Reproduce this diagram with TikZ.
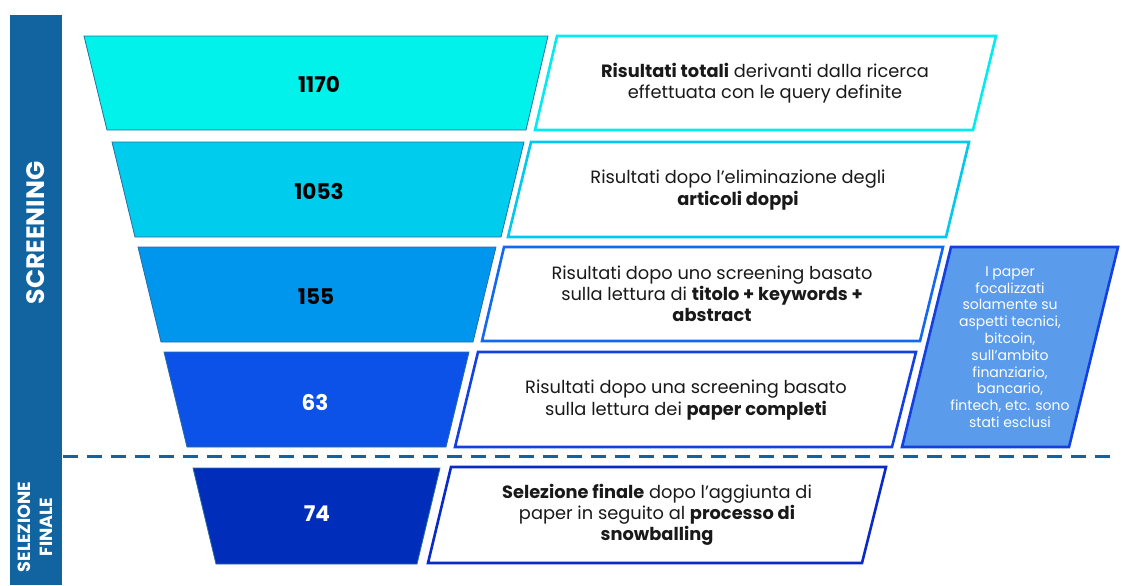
\documentclass[tikz,border=0pt]{standalone}
\usepackage{fontspec}
\setmainfont{Poppins}
\usepackage{tikz}
\definecolor{barblue}{RGB}{17,100,160}
\definecolor{stageA}{RGB}{0,242,234}
\definecolor{stageB}{RGB}{0,204,238}
\definecolor{stageC}{RGB}{0,150,238}
\definecolor{stageD}{RGB}{12,82,232}
\definecolor{stageE}{RGB}{0,46,186}
\definecolor{edgeA}{RGB}{0,236,240}
\definecolor{edgeB}{RGB}{0,200,238}
\definecolor{edgeC}{RGB}{18,104,240}
\definecolor{edgeD}{RGB}{20,64,226}
\definecolor{edgeE}{RGB}{10,42,200}
\definecolor{sidefill}{RGB}{90,155,235}
\definecolor{stageline}{RGB}{40,110,160}
\definecolor{inktext}{RGB}{25,25,25}
\tikzset{stage/.style={draw=stageline, line width=0.4pt}}
\tikzset{descbox/.style={draw=#1, fill=white, line width=1.3pt, line join=miter}}
\tikzset{numtext/.style={font=\bfseries\fontsize{10.8}{12}\selectfont, text=#1}}
\tikzset{numtext/.default=black}
\tikzset{desctext/.style={align=center, text=inktext, font=\fontsize{8.9}{10.6}\selectfont}}

\begin{document}
\begin{tikzpicture}[x=0.5pt, y=-0.5pt]
            \useasboundingbox (0,0) rectangle (1122,585);
            % side bar
            \fill[barblue] (10,15) rectangle (62,585);
            \node[rotate=90, text=white, font=\bfseries\fontsize{12.6}{14}\selectfont] (screening) at (36,233) {SCREENING};
            \node[rotate=90, text=white, align=center, font=\bfseries\fontsize{8.8}{10.8}\selectfont] (selezione) at (35,527) {SELEZIONE\\FINALE};
            % funnel
            \foreach \yt/\yb/\tl/\tr/\bl/\br/\col in {36/130/84/548/107/526/stageA, 142/237/112/524/135/501/stageB, 247/342/138/496/161/473/stageC, 352/447/164/469/187/446/stageD, 468/564/193/440/216/417/stageE} {
                \filldraw[stage, fill=\col] (\tl,\yt) -- (\tr,\yt) -- (\br,\yb) -- (\bl,\yb) -- cycle;
            }
            \node[numtext] (n1170) at (319,84) {1170};
            \node[numtext] (n1053) at (319,191) {1053};
            \node[numtext] (n155) at (316,297) {155};
            \node[numtext=white] (n63) at (315,402) {63};
            \node[numtext=white] (n74) at (317,514) {74};
            % text boxes
            \foreach \yt/\yb/\tl/\tr/\bl/\br/\col in {36/130/557/996/535/973/edgeA, 142/237/531/969/508/946/edgeB, 247/341/504/943/482/920/edgeC, 352/447/478/916/455/892/edgeD, 467/563/451/886/428/862/edgeE} {
                \draw[descbox=\col] (\tl,\yt) -- (\tr,\yt) -- (\br,\yb) -- (\bl,\yb) -- cycle;
            }
            \node[desctext] (d1170) at (765,83) {\textbf{Risultati totali} derivanti dalla ricerca\\effettuata con le query definite};
            \node[desctext] (d1053) at (738,190) {Risultati dopo l’eliminazione degli\\\textbf{articoli doppi}};
            \node[desctext] (d155) at (712,294) {Risultati dopo uno screening basato\\sulla lettura di \textbf{titolo + keywords +}\\\textbf{abstract}};
            \node[desctext] (d63) at (686,400) {Risultati dopo una screening basato\\sulla lettura dei \textbf{paper completi}};
            \node[desctext] (d74) at (657,515) {\textbf{Selezione finale} dopo l’aggiunta di\\paper in seguito al \textbf{processo di}\\\textbf{snowballing}};
            % excluded papers
            \draw[fill=sidefill, draw=edgeD, line width=1.3pt] (951,247) -- (1118,247) -- (1069,447) -- (902,447) -- cycle;
            \node[align=center, text=white, font=\fontsize{7}{8.4}\selectfont] (esclusi) at (1010,347) {I paper\\focalizzati\\solamente su\\aspetti tecnici,\\bitcoin,\\sull’ambito\\finanziario,\\bancario,\\fintech, etc. sono\\stati esclusi};
            % divider
            \coordinate (divL) at (63,456);
            \coordinate (divR) at (1113,456);
            \draw[barblue, line width=1.5pt, dash pattern=on 7.5pt off 4.5pt] (divL) -- (divR);
        \end{tikzpicture}
\end{document}
